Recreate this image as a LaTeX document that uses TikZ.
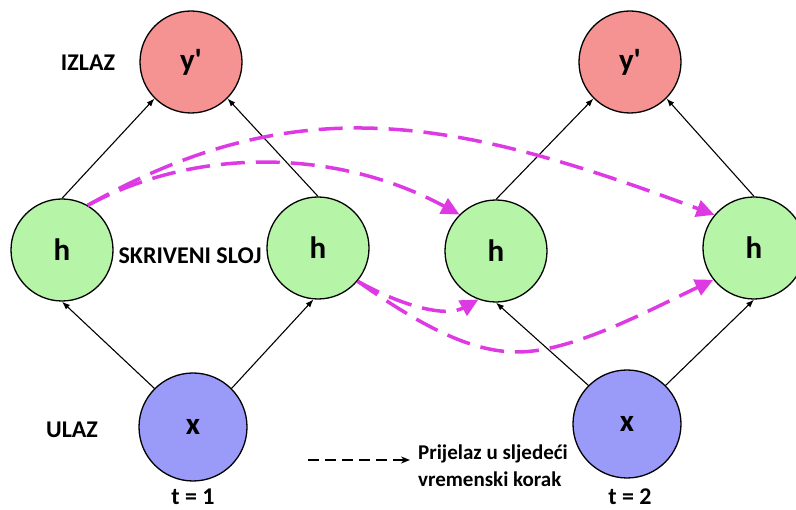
\documentclass[tikz,border=0pt]{standalone}
\usepackage{fontspec}
\setmainfont{Carlito}
\usetikzlibrary{arrows.meta}

\definecolor{outred}{RGB}{245,146,146}
\definecolor{hidgreen}{RGB}{182,245,168}
\definecolor{inblue}{RGB}{154,154,248}
\definecolor{stepmag}{RGB}{222,58,228}

\begin{document}
\begin{tikzpicture}[x=1pt, y=-1pt,
  main/.style = {draw, circle, minimum size=102pt, inner sep=0pt, line width=1.3pt, font=\fontsize{31}{33}\selectfont\bfseries},
  ynode/.style = {main, fill=outred},
  hnode/.style = {main, fill=hidgreen},
  xnode/.style = {main, fill=inblue, minimum size=108pt},
  lbl/.style = {font=\fontsize{24}{28}\selectfont\bfseries},
  feed/.style = {-{Latex[length=8pt,width=6pt]}, line width=1.1pt},
  rec/.style = {-{Triangle[length=18pt,width=17pt]}, draw=stepmag, line width=3.5pt, dash pattern=on 24pt off 11pt},
  legarrow/.style = {-{Stealth[length=9pt,width=7pt]}, line width=2pt, dash pattern=on 11pt off 6pt}]
  \useasboundingbox (0,0) rectangle (796,510);
  % t = 1
  \node[ynode] (y1) at (191,62) {y\textquotesingle};
  \node[hnode] (h1) at (62,250) {h};
  \node[hnode] (h2) at (318,248) {h};
  \node[xnode] (x1) at (193,427) {x};
  % t = 2
  \node[ynode] (y2) at (630,62) {y\textquotesingle};
  \node[hnode] (h3) at (496,251) {h};
  \node[hnode] (h4) at (754,248) {h};
  \node[xnode] (x2) at (627,424) {x};
  % labels
  \node[lbl] (izlaz) at (88,63) {IZLAZ};
  \node[lbl] (skriveni) at (190,256) {SKRIVENI SLOJ};
  \node[lbl] (ulaz) at (72,430) {ULAZ};
  \node[lbl] (t1) at (193,497) {t = 1};
  \node[lbl] (t2) at (630,497) {t = 2};
  % feed forward
  \draw[feed] (x1.135) -- (h1.south);
  \draw[feed] (x1.45) -- (h2.265);
  \draw[feed] (h1.north) -- (y1.225);
  \draw[feed] (h2.north) -- (y1.-45);
  \draw[feed] (x2.135) -- (h3.south);
  \draw[feed] (x2.45) -- (h4.south);
  \draw[feed] (h3.north) -- (y2.225);
  \draw[feed] (h4.north) -- (y2.-45);
  % prijelaz u sljedeci korak
  \draw[rec] (h1.60) .. controls (200,145) and (340,150) .. (h3.135);
  \draw[rec] (h1.60) .. controls (300,85) and (460,120) .. (h4.140);
  \draw[rec] (h2.-40) .. controls (400,305) and (445,318) .. (h3.250);
  \draw[rec] (h2.-40) .. controls (420,325) and (470,352) .. (517,352)
    .. controls (570,352) and (640,315) .. (h4.218);
  % legenda
  \node[anchor=west, align=left, inner sep=8pt, font=\fontsize{21}{27}\selectfont\bfseries] (legend) at (410,466) {Prijelaz u sljedeći\\vremenski korak};
  \coordinate (lgstart) at (308,460);
  \draw[legarrow] (lgstart) -- (lgstart -| legend.west);
\end{tikzpicture}
\end{document}
